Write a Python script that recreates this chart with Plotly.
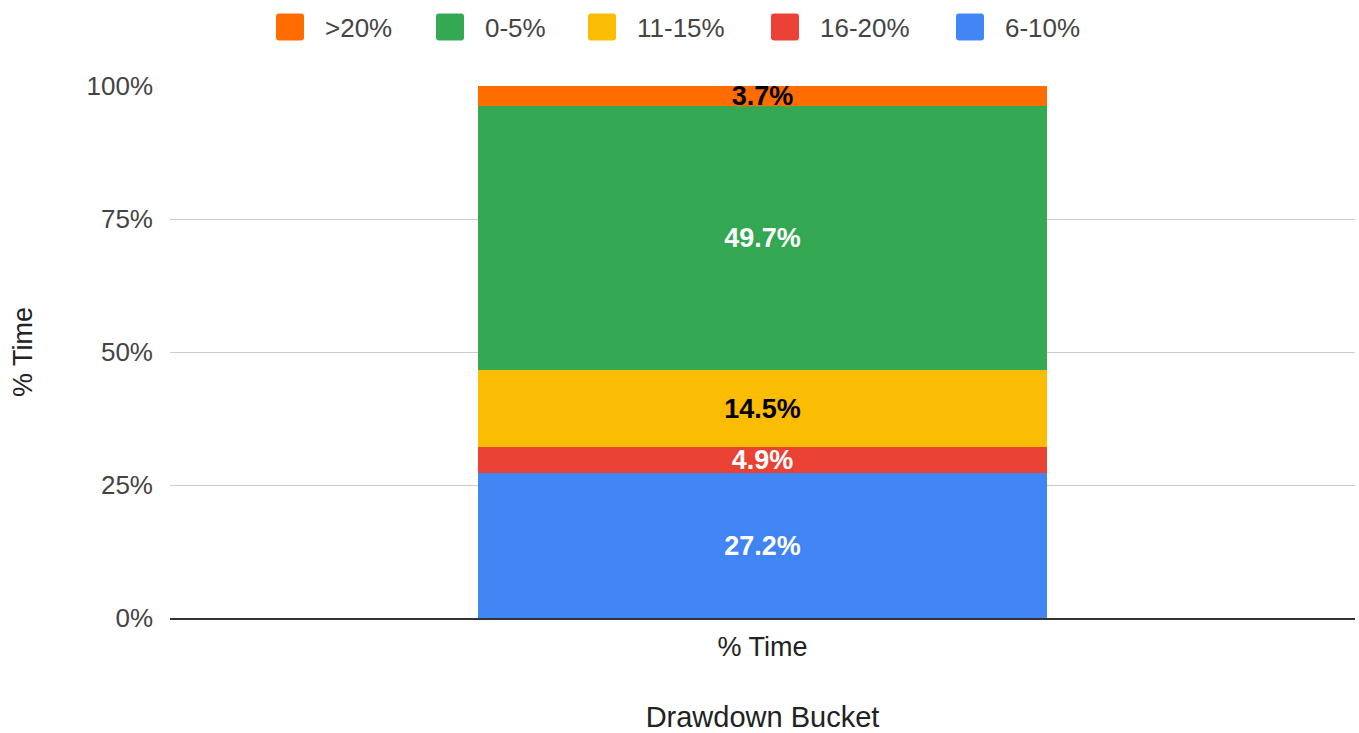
import plotly.graph_objects as go

# Stacked share of time spent in each drawdown bucket (bottom to top)
category = ["% Time"]
buckets = ["6-10%", "16-20%", "11-15%", "0-5%", ">20%"]
shares = [27.2, 4.9, 14.5, 49.7, 3.7]
colors = ["#4285F4", "#EA4335", "#FBBC04", "#34A853", "#FF6D01"]
label_colors = ["#ffffff", "#ffffff", "#000000", "#ffffff", "#000000"]
y_ticks = [0, 0.25, 0.5, 0.75, 1.0]
y_tick_text = ["0%", "25%", "50%", "75%", "100%"]

# Legend entries, top of the stack first, with their left edges in pixels
legend_order = [">20%", "0-5%", "11-15%", "16-20%", "6-10%"]
legend_left_px = [276, 436, 588, 771, 956]

FONT = "Arial, Liberation Sans, sans-serif"
W, H = 1359, 733
ML, MR, MT, MB = 170, 4, 86, 115
PW, PH = W - ML - MR, H - MT - MB


def px_to_paper(px, py):
    return (px - ML) / PW, (H - MB - py) / PH


fig = go.Figure()
for name, val, col, lc in zip(buckets, shares, colors, label_colors):
    halo = ", ".join(f"{dx}px {dy}px 2px {col}" for dx in (-1, 1) for dy in (-1, 1))
    fig.add_trace(go.Bar(
        x=category,
        y=[val / 100],
        name=name,
        showlegend=False,
        marker=dict(color=col, line=dict(width=0)),
        text=[f"{val:.1f}%"],
        textposition="inside",
        insidetextanchor="middle",
        constraintext="none",
        textangle=0,
        textfont=dict(family=FONT, size=27, color=lc, weight="bold", shadow=halo),
        width=0.48,
    ))

# Legend drawn as rounded swatches with labels
shapes = []
annotations = []
sq_w, sq_h, r = 28, 27, 3
cy = 27
for name, left in zip(legend_order, legend_left_px):
    col = colors[buckets.index(name)]
    x0, x1 = left, left + sq_w
    y0, y1 = cy - sq_h / 2, cy + sq_h / 2
    pts = [
        (x0 + r, y0), (x1 - r, y0), (x1, y0 + r), (x1, y1 - r),
        (x1 - r, y1), (x0 + r, y1), (x0, y1 - r), (x0, y0 + r),
    ]
    conv = [px_to_paper(a, b) for a, b in pts]
    path = (
        f"M{conv[0][0]},{conv[0][1]} L{conv[1][0]},{conv[1][1]} "
        f"Q{px_to_paper(x1, y0)[0]},{px_to_paper(x1, y0)[1]} {conv[2][0]},{conv[2][1]} "
        f"L{conv[3][0]},{conv[3][1]} "
        f"Q{px_to_paper(x1, y1)[0]},{px_to_paper(x1, y1)[1]} {conv[4][0]},{conv[4][1]} "
        f"L{conv[5][0]},{conv[5][1]} "
        f"Q{px_to_paper(x0, y1)[0]},{px_to_paper(x0, y1)[1]} {conv[6][0]},{conv[6][1]} "
        f"L{conv[7][0]},{conv[7][1]} "
        f"Q{px_to_paper(x0, y0)[0]},{px_to_paper(x0, y0)[1]} {conv[0][0]},{conv[0][1]} Z"
    )
    shapes.append(dict(type="path", path=path, xref="paper", yref="paper",
                       fillcolor=col, line=dict(width=0), layer="above"))
    tx, ty = px_to_paper(left + 47, cy + 1)
    annotations.append(dict(text=name, x=tx, y=ty, xref="paper", yref="paper",
                            xanchor="left", yanchor="middle", showarrow=False,
                            font=dict(family=FONT, size=26, color="#444444")))

fig.update_layout(
    barmode="stack",
    width=W,
    height=H,
    margin=dict(l=ML, r=MR, t=MT, b=MB),
    paper_bgcolor="white",
    plot_bgcolor="white",
    font=dict(family=FONT, size=25, color="#444444"),
    showlegend=False,
    shapes=shapes,
    annotations=annotations,
    xaxis=dict(
        title=dict(text="Drawdown Bucket", font=dict(size=29, color="#222222"), standoff=50),
        tickfont=dict(size=27, color="#222222"),
        showgrid=False,
        showline=True,
        linecolor="#333333",
        linewidth=1.5,
        range=[-0.5, 0.5],
        ticks="",
        ticklabelstandoff=4,
        automargin=False,
    ),
    yaxis=dict(
        title=dict(text="% Time", font=dict(size=27, color="#222222"), standoff=46),
        range=[0, 1.0],
        tickvals=y_ticks,
        ticktext=y_tick_text,
        tickfont=dict(size=26, color="#444444"),
        showgrid=True,
        gridcolor="#cccccc",
        gridwidth=1,
        zeroline=False,
        ticks="",
        ticklabelstandoff=16,
        automargin=False,
    ),
)

fig.write_html("out.html")
